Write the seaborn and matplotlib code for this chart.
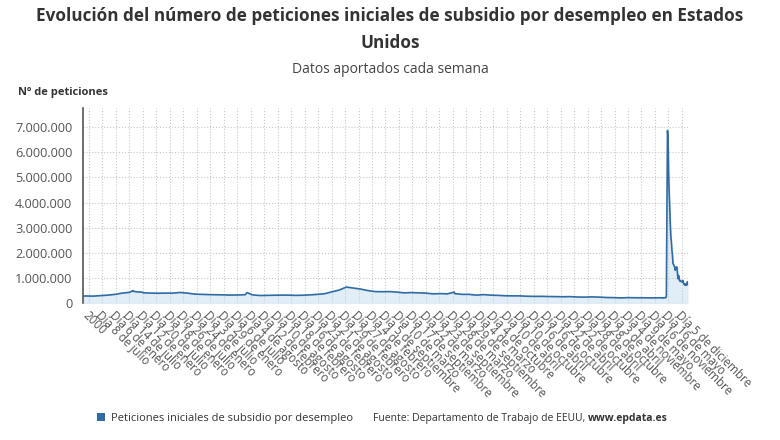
import matplotlib
matplotlib.use("Agg")
import matplotlib.pyplot as plt
import matplotlib.dates as mdates
from matplotlib.patches import Patch
from matplotlib.ticker import FuncFormatter
import numpy as np
import pandas as pd
import seaborn as sns

# ---- data (thousands of initial claims) ----
# quarterly levels 2000-2019 (mid-quarter dates)
quarter_dates = [f"{y}-{m}-15" for y in range(2000, 2020) for m in ("02", "05", "08", "11")]
quarter_values = [
    285, 280, 300, 320,   # 2000
    350, 400, 430, 450,   # 2001
    410, 400, 395, 400,   # 2002
    400, 425, 400, 360,   # 2003
    350, 340, 335, 330,   # 2004
    320, 325, 335, 330,   # 2005
    305, 310, 315, 320,   # 2006
    320, 310, 315, 330,   # 2007
    350, 375, 450, 520,   # 2008
    640, 600, 560, 500,   # 2009
    460, 455, 460, 440,   # 2010
    410, 420, 410, 400,   # 2011
    370, 380, 370, 380,   # 2012
    350, 350, 320, 340,   # 2013
    320, 310, 295, 290,   # 2014
    290, 275, 270, 270,   # 2015
    265, 260, 255, 260,   # 2016
    245, 240, 250, 240,   # 2017
    225, 220, 210, 220,   # 2018
    215, 215, 210, 215,   # 2019
]
# isolated weekly spikes visible on the line
spike_dates = ["2001-09-29", "2001-10-06", "2002-01-12", "2005-09-10", "2012-11-10"]
spike_values = [500, 470, 440, 420, 440]

# weekly values 2020
weeks_2020 = pd.date_range("2020-01-04", "2020-12-05", freq="7D")
values_2020 = [
    214, 210, 211, 216, 205, 202, 219, 215, 215, 217, 282, 3307, 6867,
    6615, 5237, 4442, 3867, 3176, 2687, 2446, 2123, 1897, 1566, 1540, 1482,
    1427, 1310, 1422, 1435, 1440, 1191, 971, 1104, 1011, 881, 893, 866,
    873, 849, 845, 898, 787, 751, 757, 709, 742, 778, 716, 853,
]

tick_labels = [
    "2000", "Día 8 de julio", "Día 6 de enero", "Día 14 de julio", "Día 12 de enero",
    "Día 20 de julio", "Día 18 de enero", "Día 26 de julio", "Día 24 de enero",
    "Día 3 de julio", "Día 29 de enero", "Día 6 de julio", "Día 4 de agosto",
    "Día 12 de febrero", "Día 10 de agosto", "Día 18 de febrero", "Día 16 de agosto",
    "Día 23 de febrero", "Día 21 de agosto", "Día 29 de febrero", "Día 27 de agosto",
    "Día 4 de febrero", "Día 5 de septiembre", "Día 10 de marzo", "Día 17 de septiembre",
    "Día 22 de marzo", "Día 23 de septiembre", "Día 28 de marzo", "Día 29 de septiembre",
    "Día 4 de marzo", "Día 4 de octubre", "Día 10 de abril", "Día 10 de octubre",
    "Día 16 de abril", "Día 16 de octubre", "Día 22 de abril", "Día 22 de octubre",
    "Día 28 de abril", "Día 28 de octubre", "Día 3 de abril", "Día 4 de noviembre",
    "Día 9 de mayo", "Día 16 de noviembre", "Día 16 de mayo", "Día 5 de diciembre",
]

df = pd.DataFrame({
    "fecha": pd.to_datetime(["2000-01-08"] + quarter_dates + spike_dates + list(weeks_2020.astype(str))),
    "peticiones": np.array([285] + quarter_values + spike_values + values_2020) * 1000,
}).sort_values("fecha")

# ---- style ----
sns.set_style("white")
plt.rcParams["font.family"] = ["Open Sans", "DejaVu Sans"]

line_color = "#2f6ca3"
fill_color = "#deebf7"
txt = "#333333"

fig = plt.figure(figsize=(7.8, 4.4), dpi=100)
ax = fig.add_axes([0.106, 0.311, 0.776, 0.444])

sns.lineplot(data=df, x="fecha", y="peticiones", ax=ax, color=line_color, linewidth=1.2)
ax.fill_between(df["fecha"], df["peticiones"], color=fill_color, alpha=0.9, zorder=0)

x0 = mdates.date2num(pd.Timestamp("2000-01-01"))
x1 = mdates.date2num(pd.Timestamp("2020-12-12"))
ax.set_xlim(x0, x1)
ax.set_ylim(0, 7_770_000)

tick_pos = np.linspace(x0 + 80, x0 + (x1 - x0) * 0.99, len(tick_labels))
ax.set_xticks(tick_pos)
ax.set_xticklabels(tick_labels, rotation=-45, ha="left", va="top",
                   rotation_mode="anchor", fontsize=8.4, color="#555555")
ax.set_yticks(np.arange(0, 7_000_001, 1_000_000))
ax.yaxis.set_major_formatter(FuncFormatter(lambda v, p: f"{int(v):,}".replace(",", ".")))
ax.tick_params(axis="y", labelsize=9.2, labelcolor="#555555", length=4, color="#666666")
ax.tick_params(axis="x", length=3, color="#999999", pad=1)

ax.grid(True, linestyle=":", color="#c8c8c8", linewidth=0.8)
for s in ("top", "right", "bottom"):
    ax.spines[s].set_visible(False)
ax.spines["left"].set_color("#555555")
ax.spines["left"].set_linewidth(1.2)
ax.set_xlabel("")
ax.set_ylabel("")

# ---- texts ----
fig.text(0.5, 0.985, "Evolución del número de peticiones iniciales de subsidio por desempleo en Estados\nUnidos",
         ha="center", va="top", fontsize=12.3, fontweight="bold", color=txt, linespacing=1.65)
fig.text(0.5, 0.842, "Datos aportados cada semana", ha="center", va="center", fontsize=10, color="#444444")
fig.text(0.023, 0.79, "Nº de peticiones", ha="left", va="center", fontsize=8, fontweight="bold", color=txt)

fig.legend(handles=[Patch(facecolor=line_color, edgecolor="none")],
           labels=["Peticiones iniciales de subsidio por desempleo"],
           loc="center left", bbox_to_anchor=(0.112, 0.05), frameon=False,
           fontsize=8, handlelength=0.7, handleheight=0.7, handletextpad=0.5,
           labelcolor=txt)

t1 = fig.text(0.478, 0.05, "Fuente: Departamento de Trabajo de EEUU, ", ha="left", va="center",
              fontsize=7.5, color=txt)
fig.canvas.draw()
bb = t1.get_window_extent().transformed(fig.transFigure.inverted())
fig.text(bb.x1, 0.05, "www.epdata.es", ha="left", va="center", fontsize=7.5,
         fontweight="bold", color=txt)

fig.savefig("out.png", dpi=100)
